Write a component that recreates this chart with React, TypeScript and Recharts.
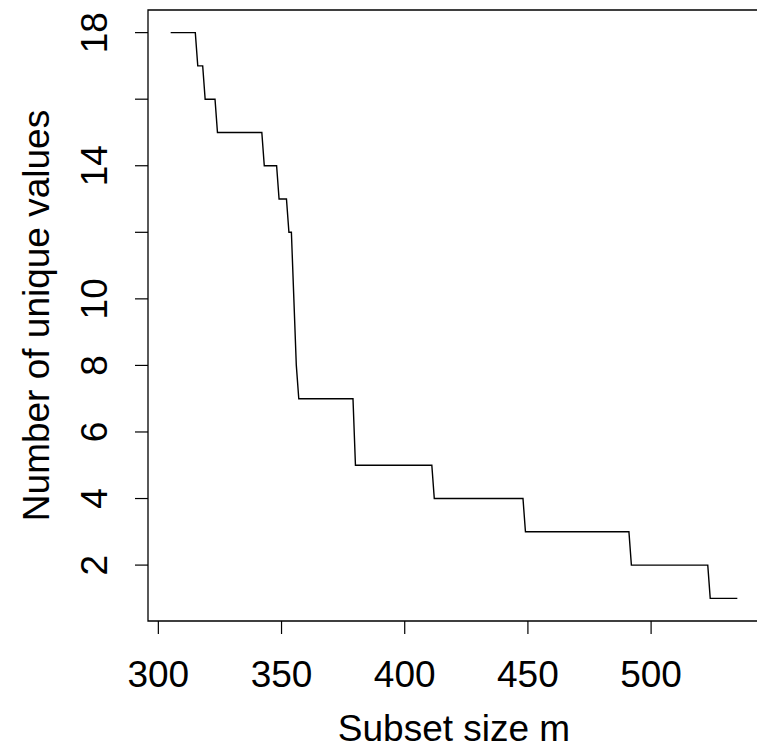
import React from "react";
import { LineChart, Line, XAxis, YAxis, ReferenceArea, Label } from "recharts";

const subsetSize = [305, 315, 316, 318, 319, 323, 324, 342, 343, 348, 349, 352, 353, 354, 355, 356, 357, 379, 380, 411, 412, 448, 449, 491, 492, 523, 524, 535];
const uniqueValues = [18, 18, 17, 17, 16, 16, 15, 15, 14, 14, 13, 13, 12, 12, 10, 8, 7, 7, 5, 5, 4, 4, 3, 3, 2, 2, 1, 1];
const xTicks = [300, 350, 400, 450, 500];
const yTicks = [2, 4, 6, 8, 10, 12, 14, 16, 18];
const yTickLabels = [2, 4, 6, 8, 10, 14, 18];
const xLabel = "Subset size m";
const yLabel = "Number of unique values";

const xDomain: [number, number] = [295.8, 544.2];
const yDomain: [number, number] = [0.32, 18.68];

const data = subsetSize.map((m, i) => ({ m, v: uniqueValues[i] }));

const FONT = "'Liberation Sans', Arial, Helvetica, sans-serif";
const FS = 37;

const XTick = (props: any) => {
  const { x, y, payload } = props;
  return (
    <text x={x} y={y + 51} textAnchor="middle" fontFamily={FONT} fontSize={FS} fill="#000">
      {payload.value}
    </text>
  );
};

const YTick = (props: any) => {
  const { x, y, payload } = props;
  if (!yTickLabels.includes(payload.value)) return <g />;
  const bx = x - 26;
  return (
    <text x={bx} y={y} textAnchor="middle" transform={`rotate(-90 ${bx} ${y})`} fontFamily={FONT} fontSize={FS} fill="#000">
      {payload.value}
    </text>
  );
};

export default function App() {
  return (
    <div style={{ position: "absolute", left: 0, top: 0, width: 757, height: 750, overflow: "hidden", background: "#fff" }}>
      <LineChart width={770} height={750} data={data} margin={{ top: 10, right: 10, left: 0, bottom: 0 }}>
        <XAxis
          type="number"
          dataKey="m"
          domain={xDomain}
          ticks={xTicks}
          allowDataOverflow
          axisLine={false}
          tickLine={{ stroke: "#000", strokeWidth: 1.2 }}
          tickSize={13}
          tick={<XTick />}
          height={129}
          interval={0}
        >
          <Label
            content={(p: any) => {
              const vb = p.viewBox;
              return (
                <text x={vb.x + vb.width / 2} y={741} textAnchor="middle" fontFamily={FONT} fontSize={FS} fill="#000">
                  {xLabel}
                </text>
              );
            }}
          />
        </XAxis>
        <YAxis
          type="number"
          domain={yDomain}
          ticks={yTicks}
          allowDataOverflow
          axisLine={false}
          tickLine={{ stroke: "#000", strokeWidth: 1.2 }}
          tickSize={13}
          tick={<YTick />}
          width={148}
          interval={0}
        >
          <Label
            content={(p: any) => {
              const vb = p.viewBox;
              const cx = 49;
              const cy = vb.y + vb.height / 2;
              return (
                <text x={cx} y={cy} textAnchor="middle" transform={`rotate(-90 ${cx} ${cy})`} fontFamily={FONT} fontSize={FS} fill="#000">
                  {yLabel}
                </text>
              );
            }}
          />
        </YAxis>
        <ReferenceArea x1={xDomain[0]} x2={xDomain[1]} y1={yDomain[0]} y2={yDomain[1]} fill="none" fillOpacity={0} stroke="#000" strokeWidth={1.3} ifOverflow="visible" />
        <Line type="linear" dataKey="v" stroke="#000" strokeWidth={1.4} dot={false} isAnimationActive={false} />
      </LineChart>
    </div>
  );
}
